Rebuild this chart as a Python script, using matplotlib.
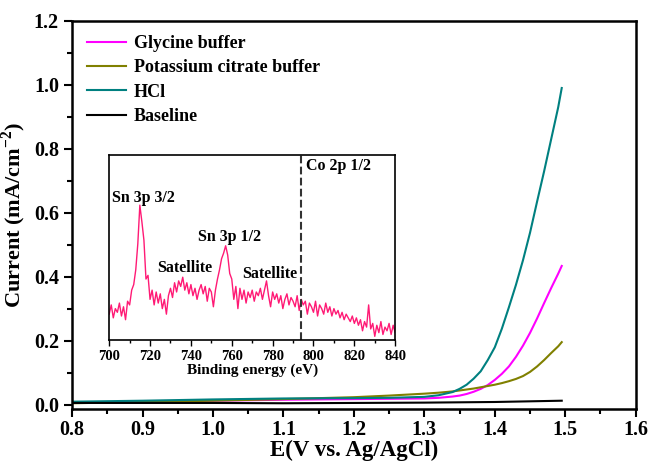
import matplotlib
matplotlib.use("Agg")
import matplotlib.pyplot as plt
from matplotlib.ticker import MultipleLocator

plt.rcParams['font.family'] = 'Liberation Serif'
plt.rcParams['font.weight'] = 'bold'
plt.rcParams['mathtext.fontset'] = 'custom'
plt.rcParams['mathtext.rm'] = 'Liberation Serif:bold'
plt.rcParams['mathtext.bf'] = 'Liberation Serif:bold'

# main polarisation curves
E = [0.8, 0.9, 1.0, 1.1, 1.2, 1.25, 1.3, 1.32, 1.34, 1.35, 1.36, 1.37, 1.38, 1.39, 1.40,
     1.41, 1.42, 1.43, 1.44, 1.45, 1.46, 1.47, 1.48, 1.49, 1.495]
glycine = [0.007, 0.010, 0.013, 0.016, 0.018, 0.019, 0.020, 0.022, 0.026, 0.029, 0.034, 0.041,
           0.050, 0.062, 0.078, 0.097, 0.120, 0.150, 0.185, 0.225, 0.270, 0.318, 0.365, 0.410, 0.434]
citrate = [0.005, 0.009, 0.013, 0.018, 0.024, 0.029, 0.035, 0.038, 0.042, 0.045, 0.048, 0.051,
           0.055, 0.059, 0.063, 0.068, 0.074, 0.081, 0.090, 0.103, 0.120, 0.140, 0.162, 0.183, 0.196]
hcl = [0.010, 0.013, 0.017, 0.020, 0.021, 0.022, 0.025, 0.030, 0.040, 0.050, 0.063, 0.082,
       0.105, 0.140, 0.180, 0.238, 0.305, 0.375, 0.452, 0.538, 0.635, 0.730, 0.830, 0.930, 0.990]
E_base = [0.8, 1.0, 1.1, 1.2, 1.3, 1.4, 1.495]
baseline = [0.006, 0.006, 0.005, 0.006, 0.007, 0.009, 0.013]

# inset XPS spectrum (normalised intensity, 1 eV steps from 700 to 840)
be = list(range(700, 841))
xps = [0.14, 0.19, 0.12, 0.17, 0.15, 0.20, 0.13, 0.18, 0.11, 0.21,
       0.19, 0.27, 0.30, 0.38, 0.52, 0.73, 0.64, 0.54, 0.33, 0.35,
       0.22, 0.27, 0.19, 0.26, 0.20, 0.25, 0.17, 0.22, 0.14, 0.24,
       0.28, 0.23, 0.31, 0.26, 0.32, 0.29, 0.34, 0.27, 0.31, 0.25,
       0.30, 0.24, 0.28, 0.22, 0.27, 0.30, 0.25, 0.29, 0.21, 0.28,
       0.26, 0.18, 0.27, 0.33, 0.38, 0.44, 0.47, 0.51, 0.46, 0.36,
       0.33, 0.22, 0.29, 0.17, 0.28, 0.22, 0.27, 0.20, 0.26, 0.23,
       0.27, 0.21, 0.26, 0.24, 0.28, 0.22, 0.27, 0.32, 0.24, 0.18,
       0.26, 0.22, 0.25, 0.20, 0.24, 0.17, 0.22, 0.25, 0.19, 0.23,
       0.21, 0.18, 0.24, 0.16, 0.22, 0.19, 0.21, 0.14, 0.20, 0.18,
       0.15, 0.21, 0.13, 0.19, 0.17, 0.14, 0.20, 0.15, 0.18, 0.13,
       0.17, 0.14, 0.16, 0.12, 0.15, 0.11, 0.14, 0.12, 0.10, 0.13,
       0.09, 0.12, 0.08, 0.11, 0.05, 0.10, 0.07, 0.19, 0.06, 0.09,
       0.02, 0.08, 0.04, 0.10, 0.03, 0.07, 0.05, 0.09, 0.03, 0.08,
       0.04]

fig = plt.figure(figsize=(6.5, 4.62), dpi=100)
ax = fig.add_axes([0.111, 0.115, 0.867, 0.84])

ax.plot(E, glycine, color='#FF00FF', lw=1.5, label='Glycine buffer')
ax.plot(E, citrate, color='#808000', lw=1.5, label='Potassium citrate buffer')
ax.plot(E, hcl, color='#008080', lw=1.5, label='HCl')
ax.plot(E_base, baseline, color='black', lw=1.5, label='Baseline')

ax.set_xlim(0.8, 1.6)
ax.set_ylim(-0.0125, 1.2)
ax.xaxis.set_major_locator(MultipleLocator(0.1))
ax.xaxis.set_minor_locator(MultipleLocator(0.05))
ax.yaxis.set_major_locator(MultipleLocator(0.2))
ax.yaxis.set_minor_locator(MultipleLocator(0.1))
ax.tick_params(which='both', direction='out', width=1.5, labelsize=14.5)
ax.tick_params(which='major', length=6)
ax.tick_params(which='minor', length=3.5)
ax.tick_params(axis='x', pad=2)
for s in ax.spines.values():
    s.set_linewidth(1.8)
ax.set_xlabel('E(V vs. Ag/AgCl)', fontsize=16.5, fontweight='bold', va='center')
ax.xaxis.set_label_coords(0.5, -0.107)
ax.set_ylabel(r'Current (mA/cm$^{-2}$)', fontsize=16, fontweight='bold')

ax.legend(loc='upper left', frameon=False, fontsize=13, handlelength=2.2,
          handletextpad=0.4, labelspacing=0.4, borderaxespad=0.4)

# inset
ins = fig.add_axes([0.168, 0.264, 0.44, 0.40])
ins.plot(be, xps, color='#FF1A75', lw=1.0)
ins.axvline(794, color='#333333', ls='--', lw=1.5)
ins.set_xlim(700, 840)
ins.set_ylim(0, 1)
ins.set_yticks([])
ins.xaxis.set_major_locator(MultipleLocator(20))
ins.xaxis.set_minor_locator(MultipleLocator(10))
ins.tick_params(which='both', direction='out', width=1.0, labelsize=10.5)
ins.tick_params(which='major', length=4)
ins.tick_params(which='minor', length=2.5)
for s in ins.spines.values():
    s.set_linewidth(1.2)
ins.set_xlabel('Binding energy (eV)', fontsize=11, fontweight='bold', labelpad=0)

ins.text(717, 0.77, 'Sn 3p 3/2', fontsize=11.5, fontweight='bold', ha='center', va='center')
ins.text(737, 0.39, 'Satellite', fontsize=11.5, fontweight='bold', ha='center', va='center')
ins.text(759, 0.56, 'Sn 3p 1/2', fontsize=11.5, fontweight='bold', ha='center', va='center')
ins.text(778.5, 0.36, 'Satellite', fontsize=11.5, fontweight='bold', ha='center', va='center')
ins.text(812, 0.94, 'Co 2p 1/2', fontsize=11.5, fontweight='bold', ha='center', va='center')

fig.savefig('out.png', dpi=100)
